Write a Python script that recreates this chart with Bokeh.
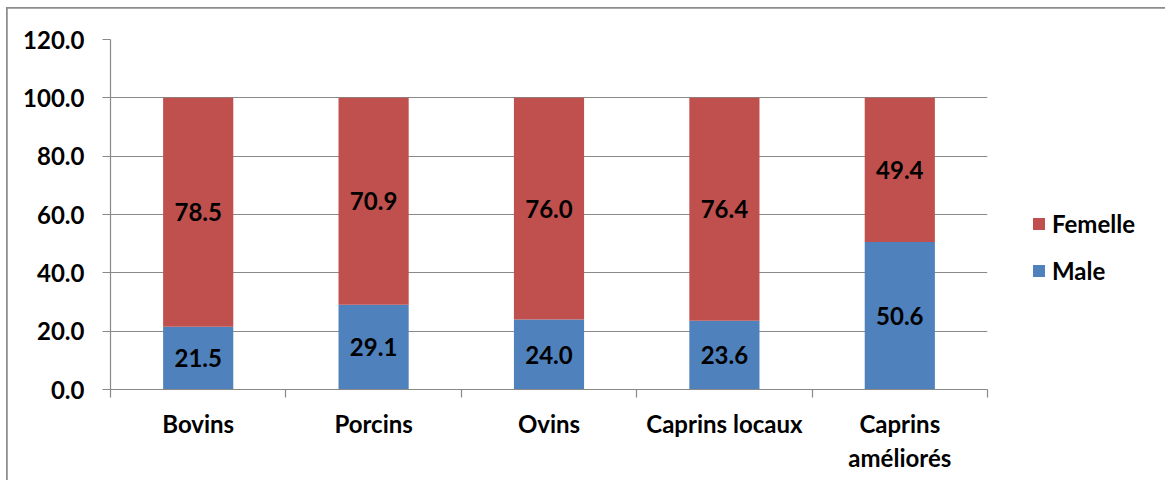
from bokeh.plotting import figure
from bokeh.models import FixedTicker, PrintfTickFormatter, Legend, LegendItem, ColumnDataSource
from bokeh.core.properties import value
from bokeh.embed import file_html
from bokeh.resources import INLINE

categories = ["Bovins", "Porcins", "Ovins", "Caprins locaux", "Caprins\naméliorés"]
male = [21.5, 29.1, 24.0, 23.6, 50.6]
femelle = [78.5, 70.9, 76.0, 76.4, 49.4]
y_ticks = [0, 20, 40, 60, 80, 100, 120]

FONT = "Lato"
RED = "#C0504D"
BLUE = "#4F81BD"
GRAY = "#898989"

xs = [i + 0.5 for i in range(len(categories))]
src = ColumnDataSource(dict(
    x=xs, male=male, femelle=femelle,
    male_mid=[m / 2 for m in male],
    fem_mid=[m + f / 2 for m, f in zip(male, femelle)],
    male_txt=["%.1f" % v for v in male],
    fem_txt=["%.1f" % v for v in femelle],
))

p = figure(frame_width=877, frame_height=350,
           min_border_left=103, min_border_right=176, min_border_top=31, min_border_bottom=91,
           x_range=(0, len(categories)), y_range=(0, 120),
           output_backend="svg", toolbar_location=None)
p.margin = (8, 0, 0, 7)
p.styles = {"outline": "2px solid #8c8c8c", "outline-offset": "-1px"}
p.outline_line_color = None
p.background_fill_color = "white"
p.border_fill_color = "white"

r = p.vbar_stack(["male", "femelle"], x="x", width=0.4, source=src,
                 color=[BLUE, RED], line_color=None)

p.text(x="x", y="male_mid", text="male_txt", source=src, text_align="center", text_baseline="middle",
       text_font=value(FONT), text_font_style="bold", text_font_size="24px", text_color="black")
p.text(x="x", y="fem_mid", text="fem_txt", source=src, text_align="center", text_baseline="middle",
       text_font=value(FONT), text_font_style="bold", text_font_size="24px", text_color="black")

# axes
p.xgrid.grid_line_color = None
p.ygrid.grid_line_color = GRAY
p.ygrid.grid_line_width = 1.2
p.yaxis.ticker = FixedTicker(ticks=y_ticks)
p.yaxis.formatter = PrintfTickFormatter(format="%.1f")
p.yaxis.axis_line_color = GRAY
p.yaxis.axis_line_width = 1.2
p.yaxis.major_tick_line_color = GRAY
p.yaxis.major_tick_out = 8
p.yaxis.major_tick_in = 0
p.yaxis.minor_tick_line_color = None
p.yaxis.major_label_standoff = 18
p.yaxis.major_label_text_font = FONT
p.yaxis.major_label_text_font_style = "bold"
p.yaxis.major_label_text_font_size = "24px"
p.yaxis.major_label_text_color = "black"

p.xaxis.ticker = FixedTicker(ticks=xs, minor_ticks=list(range(len(categories) + 1)))
p.xaxis.major_label_overrides = {x: c for x, c in zip(xs, categories)}
p.xaxis.axis_line_color = GRAY
p.xaxis.axis_line_width = 1.2
p.xaxis.major_tick_line_color = None
p.xaxis.major_tick_out = 0
p.xaxis.major_tick_in = 0
p.xaxis.minor_tick_line_color = GRAY
p.xaxis.minor_tick_line_width = 1.2
p.xaxis.minor_tick_out = 8
p.xaxis.minor_tick_in = 0
p.xaxis.major_label_standoff = 11
p.xaxis.major_label_text_font = FONT
p.xaxis.major_label_text_font_style = "bold"
p.xaxis.major_label_text_font_size = "24px"
p.xaxis.major_label_text_color = "black"
p.xaxis.major_label_orientation = "horizontal"

legend = Legend(items=[LegendItem(label="Femelle", renderers=[r[1]]),
                       LegendItem(label="Male", renderers=[r[0]])],
                location=(44, 104), padding=0, margin=0, spacing=18,
                glyph_width=15, glyph_height=15, label_height=20, label_standoff=6,
                label_text_font=FONT, label_text_font_style="bold", label_text_font_size="24px",
                label_text_color="black", background_fill_alpha=0, border_line_color=None)
p.add_layout(legend, "right")

open("out.html", "w").write(file_html(p, INLINE))
